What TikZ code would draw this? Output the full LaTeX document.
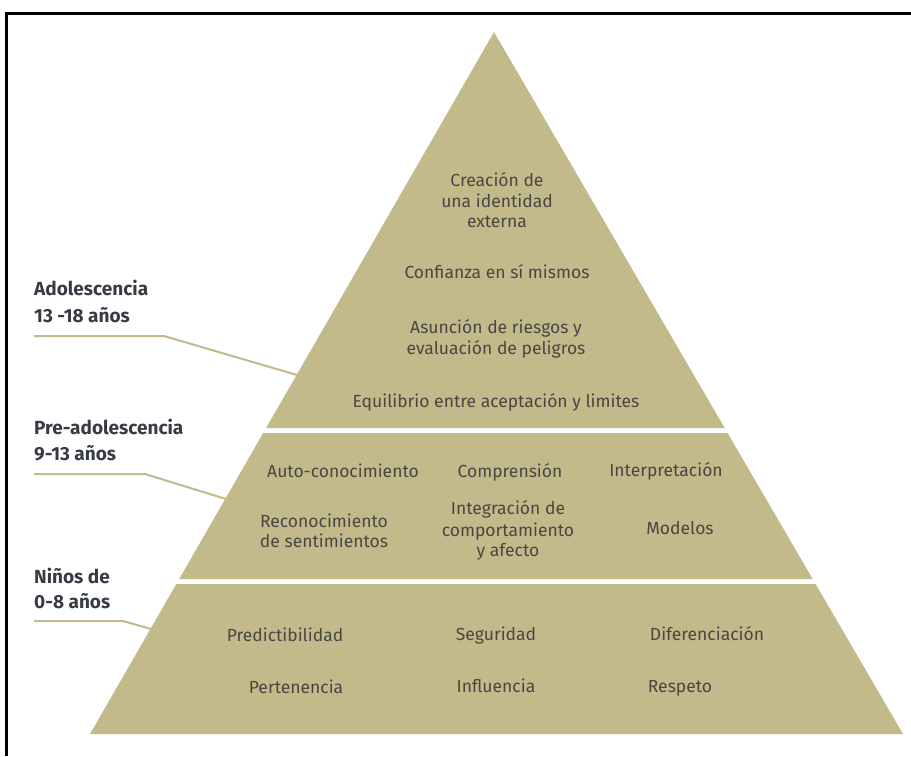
\documentclass[tikz,border=0pt]{standalone}
\usepackage{fontspec}
\setmainfont{Fira Sans}
\definecolor{tanfill}{RGB}{194,186,139}
\definecolor{txtcol}{RGB}{72,71,66}
\definecolor{labcol}{RGB}{55,60,68}
\begin{document}
\begin{tikzpicture}[x=1pt,y=-1pt,
  tier/.style={fill=tanfill,draw=none},
  ptext/.style={text=txtcol,font=\fontsize{17.5}{21}\selectfont,anchor=base,inner sep=0pt},
  ltext/.style={text=labcol,font=\fontsize{19}{27}\bfseries\selectfont,anchor=base west,inner sep=0pt},
  leader/.style={draw=tanfill,line width=2pt}]
\useasboundingbox (0,0) rectangle (911,756);
% frame
\draw[line width=3pt] (6,756) -- (6,13) -- (911,13);
% tiers
\path[tier] (494,32) -- (724.7,428) -- (266.1,428) -- cycle;
\path[tier] (263.2,433) -- (727.6,433) -- (812.7,579) -- (179.2,579) -- cycle;
\path[tier] (176.3,584) -- (815.6,584) -- (903,734) -- (90,734) -- cycle;
% edge points
\coordinate (e1) at (297,375);
\coordinate (e2) at (226,499);
\coordinate (e3) at (151,629);
% labels
\node[ltext] (l1a) at (34,295) {Adolescencia};
\node[ltext] (l1b) at (34,322) {13 -18 años};
\node[ltext] (l2a) at (34,434) {Pre-adolescencia};
\node[ltext] (l2b) at (34,460) {9-13 años};
\node[ltext] (l3a) at (34,583) {Niños de};
\node[ltext] (l3b) at (34,608) {0-8 años};
\coordinate (s1) at (34,336);
\coordinate (s2) at (34,474);
\coordinate (s3) at (34,621);
\draw[leader] (s1) -- (164,336) -- (e1);
\draw[leader] (s2) -- (145,474) -- (e2);
\draw[leader] (s3) -- (123,621) -- (e3);
% top tier text
\node[ptext] (t1a) at (497,186) {Creación de};
\node[ptext] (t1b) at (497,207) {una identidad};
\node[ptext] (t1c) at (497,227) {externa};
\node[ptext] (t2) at (497,278) {Confianza en sí mismos};
\node[ptext] (t3a) at (496,333) {Asunción de riesgos y};
\node[ptext] (t3b) at (496,354) {evaluación de peligros};
\node[ptext] (t4) at (496,407) {Equilibrio entre aceptación y limites};
% middle tier text
\node[ptext] (m1) at (343,477) {Auto-conocimiento};
\node[ptext] (m2) at (510,477) {Comprensión};
\node[ptext] (m3) at (666,476) {Interpretación};
\node[ptext] (m4a) at (324,527) {Reconocimiento};
\node[ptext] (m4b) at (324,547) {de sentimientos};
\node[ptext] (m5a) at (508,514) {Integración de};
\node[ptext] (m5b) at (508,536) {comportamiento};
\node[ptext] (m5c) at (508,556) {y afecto};
\node[ptext] (m6) at (680,534) {Modelos};
% bottom tier text
\node[ptext] (b1) at (285,641) {Predictibilidad};
\node[ptext] (b2) at (496,640) {Seguridad};
\node[ptext] (b3) at (707,640) {Diferenciación};
\node[ptext] (b4) at (296,693) {Pertenencia};
\node[ptext] (b5) at (496,692) {Influencia};
\node[ptext] (b6) at (680,692) {Respeto};
\end{tikzpicture}
\end{document}
